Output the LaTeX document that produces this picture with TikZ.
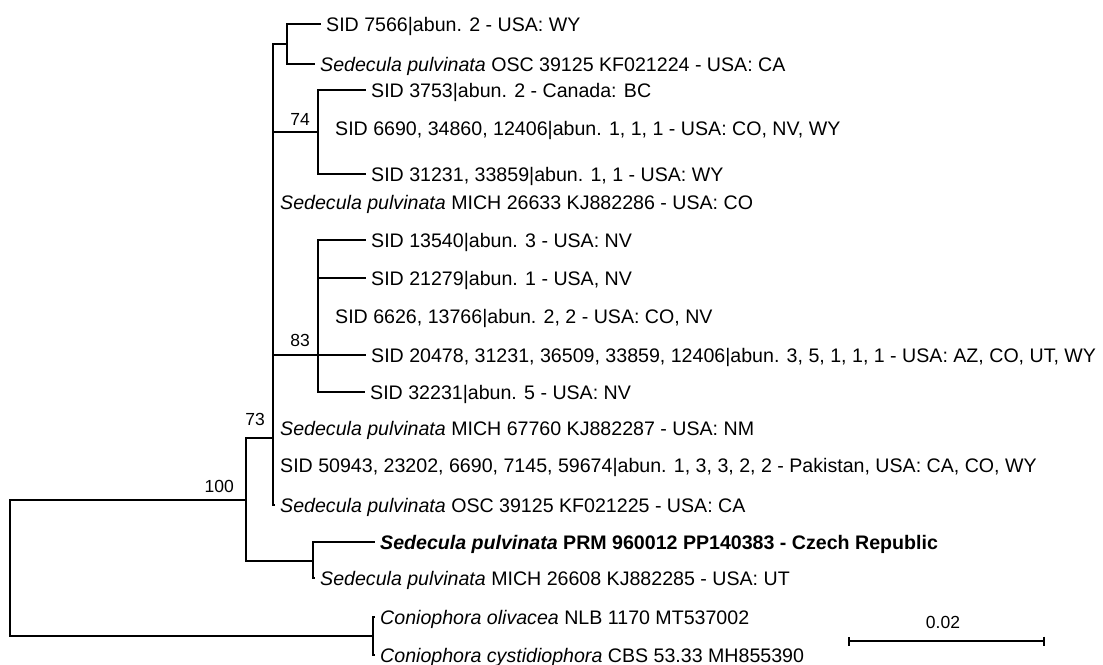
\documentclass[tikz,border=0pt]{standalone}
\usepackage{fontspec}
\setmainfont{Liberation Sans}
\usetikzlibrary{arrows.meta}
\definecolor{ink}{HTML}{000000}
\tikzset{
  tip/.style={anchor=west, inner xsep=5pt, inner ysep=0pt, text height=14pt, text depth=0pt, font=\fontsize{19.6}{22}\selectfont},
  boot/.style={anchor=base east, inner sep=0pt, font=\fontsize{17.5}{20}\selectfont},
  branch/.style={line width=2pt, ink},
}

\begin{document}
\begin{tikzpicture}[x=1pt,y=-1pt]
  \useasboundingbox (0,0) rectangle (1103,664);
  % internal nodes
  \coordinate (root) at (10,568);
  \coordinate (n100) at (246,500);
  \coordinate (n73) at (273,438);
  \coordinate (nA) at (287,44);
  \coordinate (n74) at (318,132);
  \coordinate (n83) at (318,355);
  \coordinate (nB) at (313,561);
  \coordinate (nC) at (373,636);
  % tips
  \foreach \nm/\x/\y/\txt in {%
    {t1/321/24/{SID 7566|abun. 2 - USA: WY}},
    {t2/315/64/{\textit{Sedecula pulvinata} OSC 39125 KF021224 - USA: CA}},
    {t3/366/90/{SID 3753|abun. 2 - Canada: BC}},
    {t4/330/128/{SID 6690, 34860, 12406|abun. 1, 1, 1 - USA: CO, NV, WY}},
    {t5/366/174/{SID 31231, 33859|abun. 1, 1 - USA: WY}},
    {t6/275/202/{\textit{Sedecula pulvinata} MICH 26633 KJ882286 - USA: CO}},
    {t7/366/240/{SID 13540|abun. 3 - USA: NV}},
    {t8/366/278/{SID 21279|abun. 1 - USA, NV}},
    {t9/330/316/{SID 6626, 13766|abun. 2, 2 - USA: CO, NV}},
    {t10/366/355/{SID 20478, 31231, 36509, 33859, 12406|abun. 3, 5, 1, 1, 1 - USA: AZ, CO, UT, WY}},
    {t11/365/392/{SID 32231|abun. 5 - USA: NV}},
    {t12/275/428/{\textit{Sedecula pulvinata} MICH 67760 KJ882287 - USA: NM}},
    {t13/275/465/{SID 50943, 23202, 6690, 7145, 59674|abun. 1, 3, 3, 2, 2 - Pakistan, USA: CA, CO, WY}},
    {t14/275/505/{\textit{Sedecula pulvinata} OSC 39125 KF021225 - USA: CA}},
    {t15/375/542/{\textbf{\textit{Sedecula pulvinata} PRM 960012 PP140383 - Czech Republic}}},
    {t16/315/578/{\textit{Sedecula pulvinata} MICH 26608 KJ882285 - USA: UT}},
    {t17/375/617/{\textit{Coniophora olivacea} NLB 1170 MT537002}},
    {t18/375/655/{\textit{Coniophora cystidiophora} CBS 53.33 MH855390}}} {
    \node[tip] (\nm) at (\x,\y) {\txt};
  }
  % branches
  \foreach \a/\b in {root/n100, root/nC, n100/n73, n100/nB, n73/nA, n73/n74, n73/n83,
      n73/t14.west, nA/t1.west, nA/t2.west, n74/t3.west, n74/t5.west, n83/t7.west,
      n83/t8.west, n83/t10.west, n83/t11.west, nB/t15.west, nB/t16.west, nC/t17.west, nC/t18.west}
    \draw[branch] (\a) |- (\b);
  % bootstrap values
  \node[boot] (b74) at (310,125) {74};
  \node[boot] (b83) at (310,346) {83};
  \node[boot] (b73) at (265,425.5) {73};
  \node[boot] (b100) at (234,492) {100};
  % scale bar
  \coordinate (sbL) at (848,641);
  \coordinate (sbR) at (1045,641);
  \draw[branch, {Bar[width=9pt]}-{Bar[width=9pt]}] (sbL) -- (sbR);
  \node[boot, anchor=base] (scalelab) at (943,628) {0.02};
\end{tikzpicture}
\end{document}
